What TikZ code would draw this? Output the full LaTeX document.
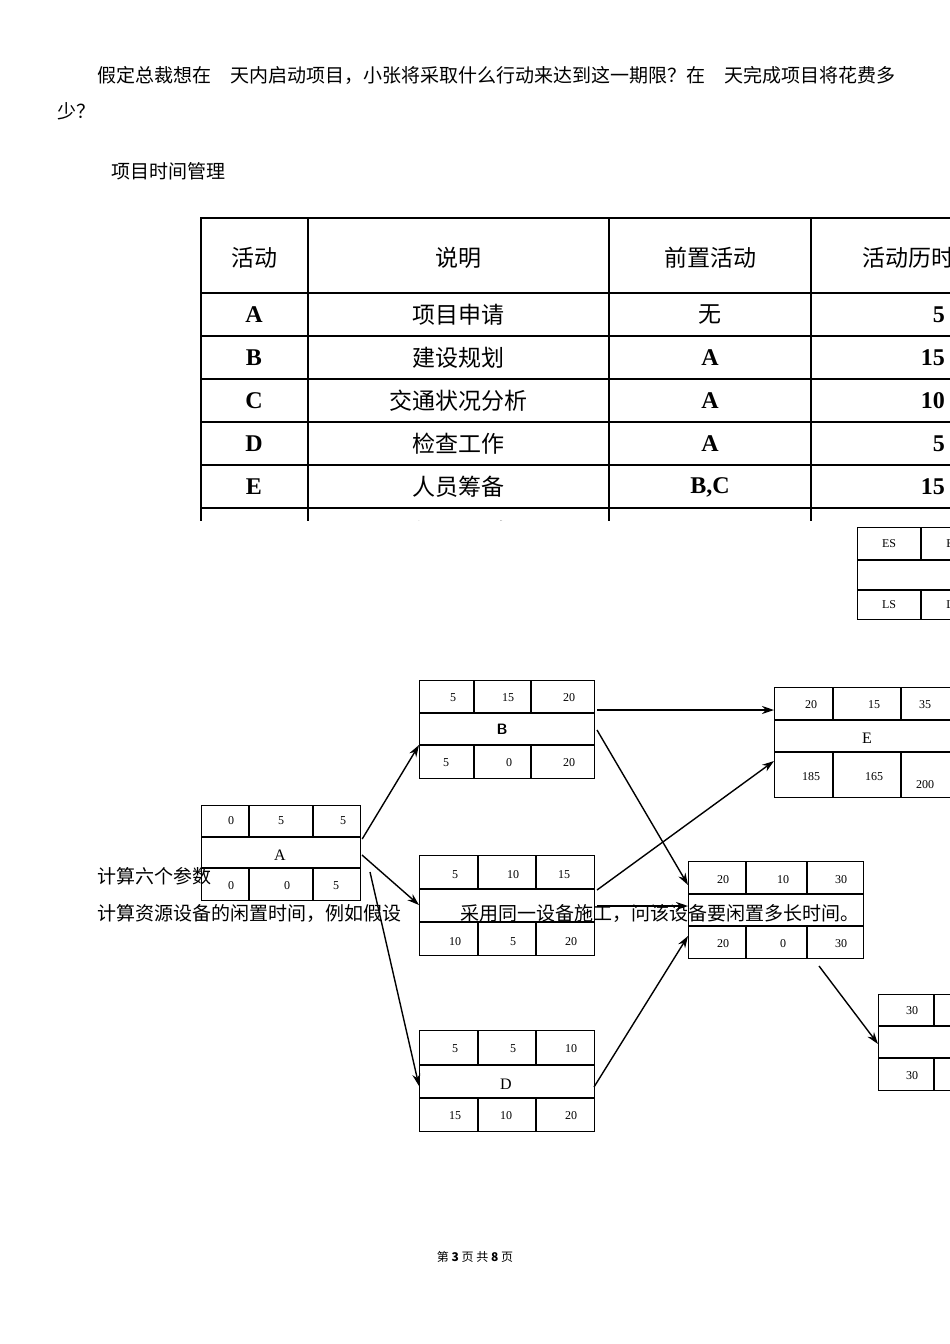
\documentclass[tikz,border=0pt]{standalone}
\usepackage{fontspec}
\setmainfont{Liberation Serif}
\newfontfamily\cjk{Noto Sans CJK SC}
\usetikzlibrary{arrows.meta}
\newcommand\nbox[9]{%
  \node[draw,line width=1.2pt,inner sep=0pt,minimum width=#4pt-#2pt,minimum height=#5pt-#3pt,anchor=north west] (#1) at (#2,#3) {};
  \draw[line width=1.2pt] (#2,#6) -- (#4,#6) (#2,#7) -- (#4,#7)
     (#8,#3) -- (#8,#6) (#9,#3) -- (#9,#6) (#8,#7) -- (#8,#5) (#9,#7) -- (#9,#5);}
\tikzset{num/.style={font=\fontsize{12}{12}\selectfont,inner sep=0pt},
  lab/.style={font=\fontsize{16}{16}\selectfont,inner sep=0pt},
  body/.style={font=\cjk\fontsize{19}{19}\selectfont,inner sep=0pt,anchor=west},
  th/.style={font=\cjk\fontsize{23}{23}\selectfont,inner sep=0pt},
  td/.style={font=\bfseries\fontsize{24}{24}\selectfont,inner sep=0pt},
  arr/.style={-{Stealth[length=12pt,width=8pt]},line width=1.4pt}}
\begin{document}
\begin{tikzpicture}[x=1pt,y=-1pt]
\useasboundingbox (0,0) rectangle (950,1344);
% text
\node[body] (t1) at (97,75) {假定总裁想在　天内启动项目，小张将采取什么行动来达到这一期限？在　天完成项目将花费多};
\node[body] (t2) at (57,111) {少？};
\node[body] (t3) at (111,171) {项目时间管理};
% table
\begin{scope}
\clip (195,212) rectangle (950,520);
\draw[line width=1.8pt] (201,218) rectangle (1010,560);
\foreach \y in {293,336,379,422,465,508} \draw[line width=1.8pt] (201,\y) -- (1010,\y);
\foreach \x in {308,609,811} \draw[line width=1.8pt] (\x,218) -- (\x,560);
\node[th] (h1) at (254,258) {活动};
\node[th] (h2) at (458,258) {说明};
\node[th] (h3) at (710,258) {前置活动};
\node[th,anchor=west] (h4) at (862,258) {活动历时};
\node[th] (rc0) at (710,315) {无};
\foreach \r/\a/\b/\c/\d [count=\i] in {315/A/项目申请//5,358/B/建设规划/A/15,401/C/交通状况分析/A/10,444/D/检查工作/A/5,487/E/人员筹备/{B,C}/15}{
  \node[td] (ra\i) at (254,\r) {\a};
  \node[th] (rb\i) at (458,\r) {\b};
  \node[td] (rc\i) at (710,\r) {\c};
  \node[td,anchor=east] (rd\i) at (945,\r) {\d};}
\node[th] (rf) at (458,532) {质量与设备};
\end{scope}
% legend box
\nbox{leg}{857}{527}{990}{619}{560}{590}{921}{985}
\node[num] (es) at (889,544) {ES};
\node[num] (ls) at (889,605) {LS};
\node[num] (ef) at (950,544) {E};
\node[num] (lf) at (950,605) {L};
% boxes
\nbox{A}{201}{805}{360}{900}{837}{868}{249}{313}
\node[num] at (231,821) {0};\node[num] at (281,821) {5};\node[num] at (343,821) {5};
\node[lab] at (280,855) {A};
\node[num] at (231,886) {0};\node[num] at (287,886) {0};\node[num] at (336,886) {5};
\nbox{B}{419}{680}{594}{778}{713}{745}{474}{531}
\node[num] at (453,698) {5};\node[num] at (508,698) {15};\node[num] at (569,698) {20};
\node[font=\sffamily\bfseries\fontsize{15}{15}\selectfont] at (502,729) {B};
\node[num] at (446,763) {5};\node[num] at (509,763) {0};\node[num] at (569,763) {20};
\nbox{E}{774}{687}{990}{797}{720}{752}{833}{901}
\node[num] at (811,705) {20};\node[num] at (874,705) {15};\node[num] at (925,705) {35};
\node[lab] at (867,738) {E};
\node[num] at (811,777) {185};\node[num] at (874,777) {165};\node[num] at (925,785) {200};
\nbox{C}{419}{855}{594}{955}{889}{922}{478}{536}
\node[num] at (455,875) {5};\node[num] at (513,875) {10};\node[num] at (564,875) {15};
\node[num] at (455,942) {10};\node[num] at (513,942) {5};\node[num] at (571,942) {20};
\nbox{F}{688}{861}{863}{958}{894}{926}{746}{807}
\node[num] at (723,880) {20};\node[num] at (783,880) {10};\node[num] at (841,880) {30};
\node[num] at (723,944) {20};\node[num] at (783,944) {0};\node[num] at (841,944) {30};
\nbox{D}{419}{1030}{594}{1131}{1065}{1098}{478}{536}
\node[num] at (455,1049) {5};\node[num] at (513,1049) {5};\node[num] at (571,1049) {10};
\node[lab] at (506,1084) {D};
\node[num] at (455,1116) {15};\node[num] at (506,1116) {10};\node[num] at (571,1116) {20};
\nbox{G}{878}{994}{1010}{1090}{1026}{1058}{934}{990}
\node[num] at (912,1011) {30};\node[num] at (912,1076) {30};
% arrows
\draw[arr] ([xshift=1pt,yshift=-1pt]A.north east |- 0,838) -- (B.west |- 0,745);
\draw[arr] (362,855) -- (C.west |- 0,905);
\draw[arr] (370,872) -- (D.west |- 0,1086);
\draw[arr] (597,710) -- (E.west |- 0,710);
\draw[arr] (597,730) -- (F.west |- 0,885);
\draw[arr] (597,890) -- (E.west |- 0,761);
\draw[arr] (597,906) -- (F.west |- 0,906);
\draw[arr] (594,1087) -- (F.west |- 0,936);
\draw[arr] (819,966) -- (G.west |- 0,1044);
% overlay text
\node[body] (t4) at (97,876) {计算六个参数};
\node[body] (t5) at (97,913) {计算资源设备的闲置时间，例如假设};
\node[body] (t6) at (460,913) {采用同一设备施工，问该设备要闲置多长时间。};
\node[font=\cjk\fontsize{12}{12}\selectfont,inner sep=0pt] (ft) at (475,1257) {第 \textbf{3} 页 共 \textbf{8} 页};
\end{tikzpicture}
\end{document}
